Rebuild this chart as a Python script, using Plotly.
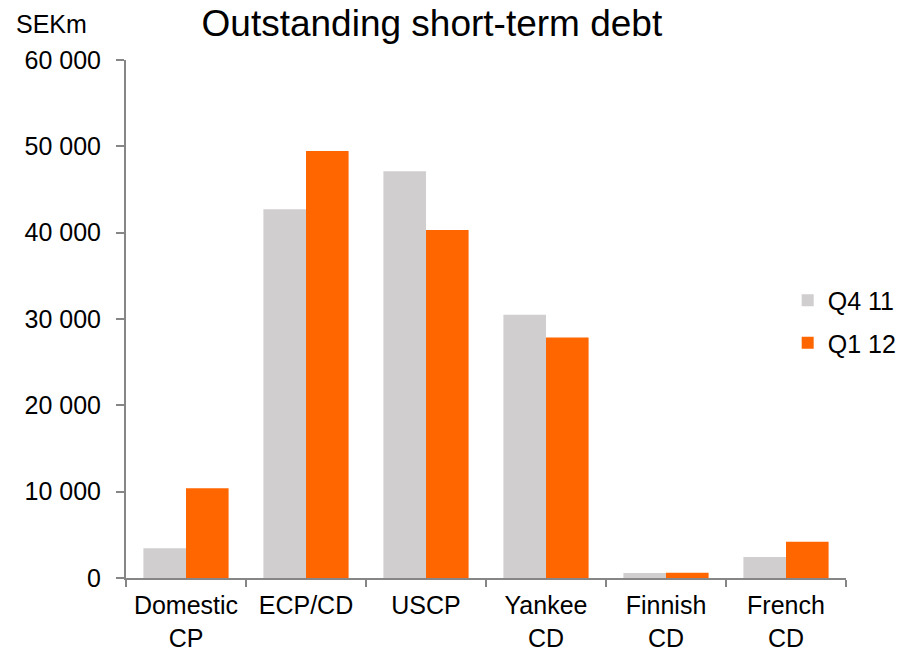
import plotly.graph_objects as go

categories = ["Domestic<br>CP", "ECP/CD", "USCP", "Yankee<br>CD", "Finnish<br>CD", "French<br>CD"]
q4_11 = [3450, 42700, 47100, 30500, 580, 2430]
q1_12 = [10400, 49450, 40300, 27850, 600, 4200]
series_names = ["Q4 11", "Q1 12"]
colors = ["#D0CECE", "#FF6600"]

FONT = "Liberation Sans, Arial, sans-serif"
FS = 25

fig = go.Figure()
for name, vals, col in zip(series_names, [q4_11, q1_12], colors):
    fig.add_trace(go.Bar(x=categories, y=vals, name=name, marker_color=col,
                         marker_line_width=0, legendgroup=name))

fig.update_layout(
    template="none",
    width=915, height=652,
    margin=dict(l=126, r=69, t=60, b=74),
    paper_bgcolor="white", plot_bgcolor="white",
    barmode="group", bargap=0.29, bargroupgap=0,
    separators=", ",
    font=dict(family=FONT, size=FS, color="#000000"),
    title=dict(text="Outstanding short-term debt", x=0.472, xanchor="center",
               y=0.965, yanchor="middle", font=dict(size=37, family=FONT, color="#000")),
    legend=dict(x=0.919, y=0.58, xanchor="left", yanchor="top",
                font=dict(size=FS, family=FONT), tracegroupgap=7,
                bgcolor="rgba(0,0,0,0)"),
    showlegend=True,
)
fig.update_yaxes(range=[0, 60000], dtick=10000, tickformat=",", showgrid=False,
                 showline=True, linecolor="#868686", linewidth=2,
                 ticks="outside", ticklen=8, tickcolor="#868686", tickwidth=2,
                 ticklabelstandoff=10, automargin=False,
                 zeroline=False, tickfont=dict(size=FS, family=FONT))
fig.update_xaxes(showline=True, linecolor="#868686", linewidth=2,
                 ticks="outside", ticklen=7, tickcolor="#868686", tickwidth=2,
                 tickson="boundaries", showgrid=False, automargin=False,
                 ticklabelstandoff=4,
                 tickfont=dict(size=FS, family=FONT))

fig.add_annotation(text="SEKm", xref="paper", yref="paper", x=-0.155, y=1.07,
                   xanchor="left", yanchor="middle", showarrow=False,
                   font=dict(size=FS, family=FONT))

fig.write_html("out.html")
